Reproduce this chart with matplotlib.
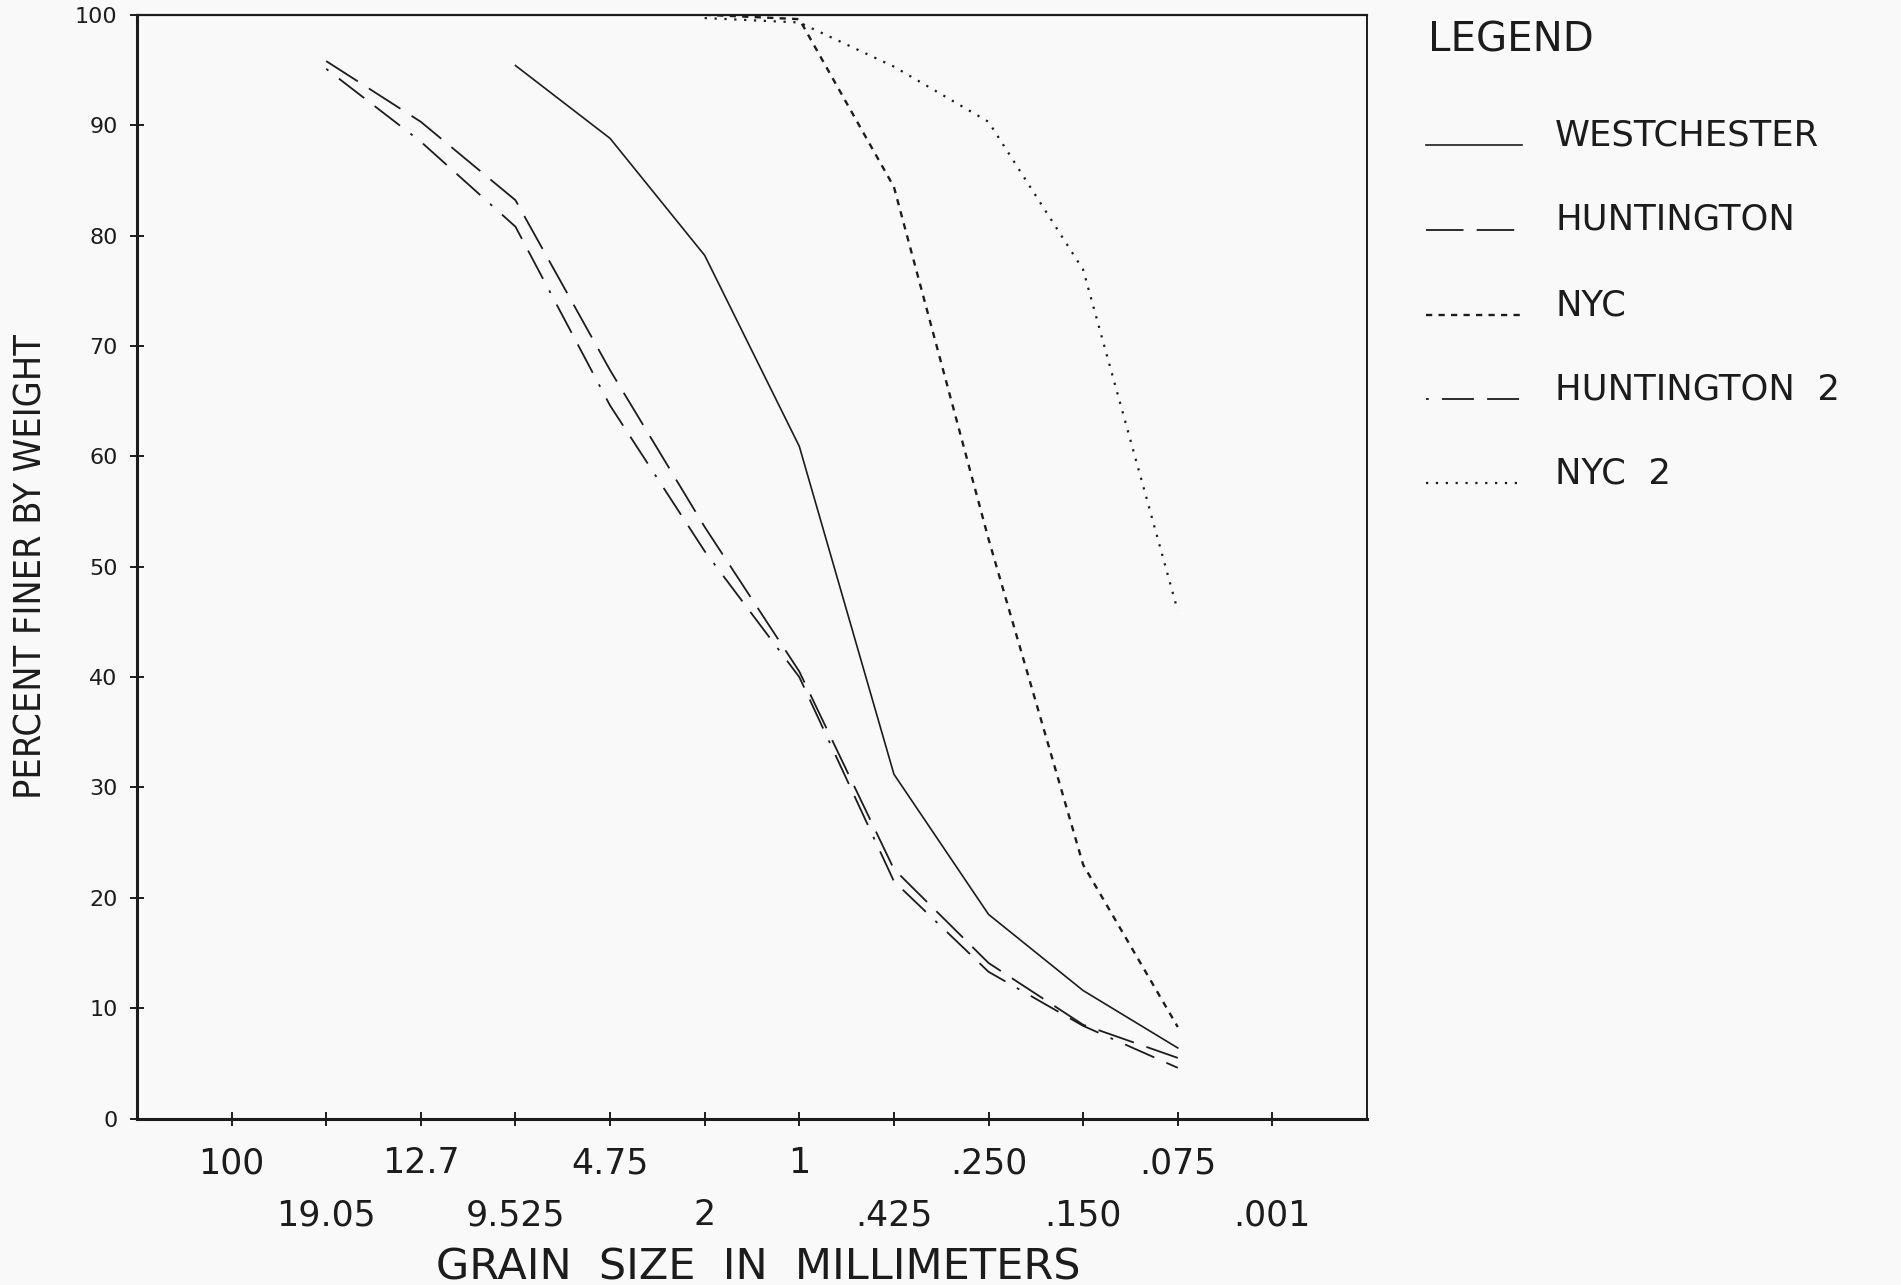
import numpy as np
import matplotlib.pyplot as plt
from matplotlib.lines import Line2D

plt.rcParams['lines.scale_dashes'] = False
plt.rcParams['font.family'] = 'DejaVu Sans'

# sieve sizes in mm, one tick slot each
sizes = ["100", "19.05", "12.7", "9.525", "4.75", "2", "1",
         ".425", ".250", ".150", ".075", ".001"]
nan = np.nan
westchester = [nan, nan, nan, 95.4, 88.8, 78.2, 60.9, 31.2, 18.5, 11.6, 6.4, nan]
huntington = [nan, 95.8, 90.3, 83.2, 67.8, 53.6, 40.5, 22.6, 14.1, 8.5, 5.5, nan]
nyc = [nan, nan, nan, nan, nan, 100.0, 99.6, 84.4, 52.5, 23.0, 8.3, nan]
huntington2 = [nan, 95.1, 88.5, 80.8, 64.6, 51.4, 40.0, 21.5, 13.3, 8.4, 4.6, nan]
nyc2 = [nan, nan, nan, nan, nan, 99.7, 99.3, 95.3, 90.3, 76.9, 46.0, nan]
names = ["WESTCHESTER", "HUNTINGTON", "NYC", "HUNTINGTON  2", "NYC  2"]

ink = '#1c1c1c'
styles = [
    dict(linestyle='-', linewidth=1.2),
    dict(linestyle=(0, (27, 9.5)), linewidth=1.3),
    dict(linestyle=(0, (4.5, 4.5)), linewidth=1.7),
    dict(linestyle=(0, (2, 9.5, 23, 9.5, 23, 9.5)), linewidth=1.3),
    dict(linestyle=(0, (1.6, 5.5)), linewidth=1.6),
]

W, H = 1901, 1285
fig = plt.figure(figsize=(W / 100, H / 100), dpi=100, facecolor='#f9f9f9')
ax = fig.add_axes([137 / W, 1 - 1118.6 / H, 1230 / W, (1118.6 - 14.75) / H])
ax.set_facecolor('#f9f9f9')

x = np.arange(1, len(sizes) + 1)
series = [westchester, huntington, nyc, huntington2, nyc2]
for vals, st in zip(series, styles):
    ax.plot(x, vals, color=ink, **st)

ax.set_xlim(0, 13)
ax.set_ylim(0, 100)
ax.set_yticks(np.arange(0, 101, 10))
ax.set_xticks(x[::2], sizes[::2])
ax.set_xticks(x[1::2], sizes[1::2], minor=True)

ax.tick_params(axis='y', direction='inout', length=10, width=1.4, pad=9,
               labelsize=16, colors=ink)
ax.tick_params(axis='x', which='both', direction='inout', length=10, width=1.4,
               labelsize=25, colors=ink)
ax.tick_params(axis='x', which='major', pad=15)
ax.tick_params(axis='x', which='minor', pad=52.5)

for side, lw in [('left', 2.2), ('bottom', 2.2), ('top', 1.6), ('right', 1.4)]:
    ax.spines[side].set_linewidth(lw)
    ax.spines[side].set_color(ink)

fig.text(758 / W, 1 - 1279 / H, "GRAIN  SIZE  IN  MILLIMETERS", ha='center',
         va='baseline', fontsize=31, color=ink)
fig.text(32 / W, 1 - 567 / H, "PERCENT FINER BY WEIGHT", rotation=90,
         ha='center', va='center', fontsize=27, color=ink,
         fontstretch='condensed')

# legend, drawn to the right of the axes
fig.text(1428 / W, 1 - 52 / H, "LEGEND", ha='left', va='baseline',
         fontsize=29, color=ink)
rows = [145, 230, 315, 399, 483]
for name, st, yb in zip(names, styles, rows):
    yf = 1 - yb / H
    fig.add_artist(Line2D([1426 / W, 1522 / W], [yf, yf], color=ink,
                          transform=fig.transFigure, **st))
    fig.text(1555 / W, yf, name, ha='left', va='baseline', fontsize=25.5,
             color=ink)

fig.savefig('out.png', dpi=100, facecolor=fig.get_facecolor())
